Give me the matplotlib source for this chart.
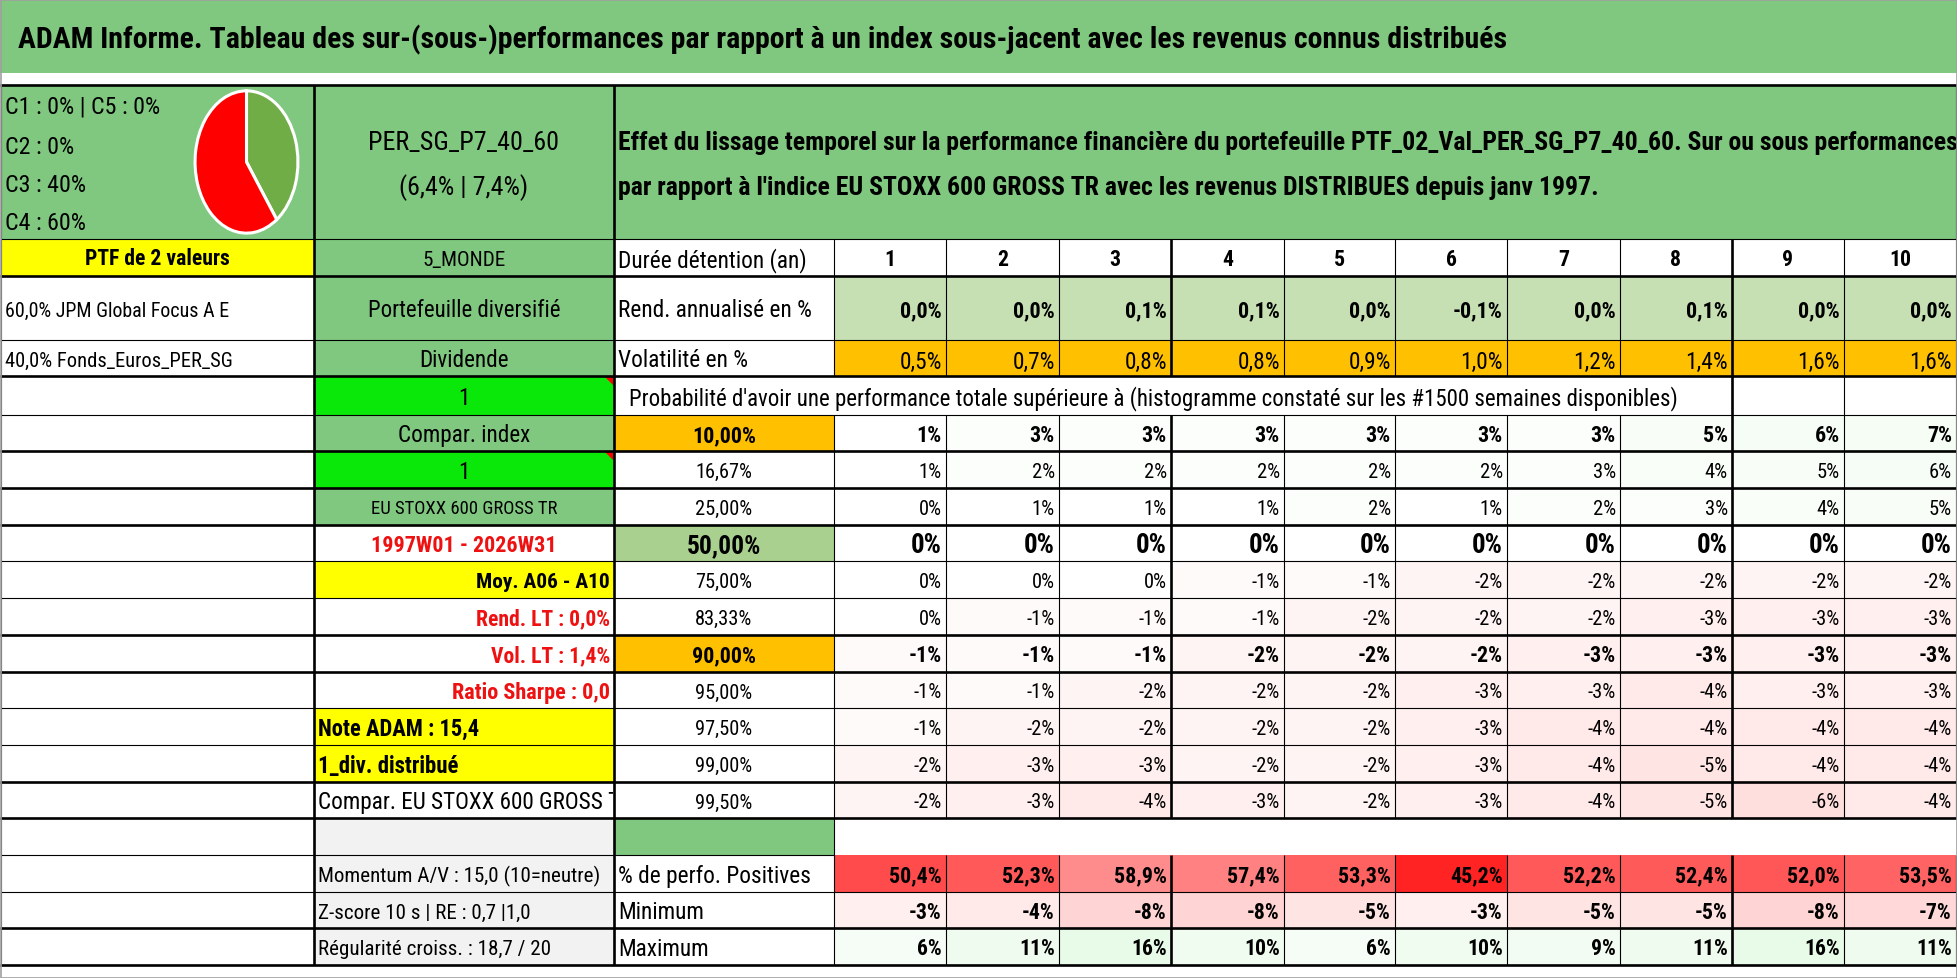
import matplotlib
matplotlib.use("Agg")
import matplotlib.pyplot as plt
import matplotlib.font_manager as fm
from matplotlib.font_manager import FontProperties
from matplotlib.patches import Rectangle, Polygon
from matplotlib.transforms import Bbox, TransformedBbox

TITLE = ("ADAM Informe. Tableau des sur-(sous-)performances par rapport à un index "
         "sous-jacent avec les revenus connus distribués")
EFFET_L1 = ("Effet du lissage temporel sur la performance financière du portefeuille "
            "PTF_02_Val_PER_SG_P7_40_60. Sur ou sous performances")
EFFET_L2 = ("par rapport à l'indice EU STOXX 600 GROSS TR avec les revenus DISTRIBUES "
            "depuis janv 1997.")
PROBA_TITLE = ("Probabilité d'avoir une performance totale supérieure à (histogramme "
               "constaté sur les #1500 semaines disponibles)")

PIE_LABELS = ["C1 : 0% | C5 : 0%", "C2 : 0%", "C3 : 40%", "C4 : 60%"]
PIE_VALUES = [40, 60]          # C3, C4
PIE_COLORS = ["#70AD47", "#FF0000"]

FUND_NAME = "PER_SG_P7_40_60"
FUND_PERF = "(6,4% | 7,4%)"
PTF_LABEL = "PTF de 2 valeurs"
PORTFOLIO = ["60,0% JPM Global Focus A E", "40,0% Fonds_Euros_PER_SG"]

HORIZONS = [1, 2, 3, 4, 5, 6, 7, 8, 9, 10]
REND = [0.0, 0.0, 0.1, 0.1, 0.0, -0.1, 0.0, 0.1, 0.0, 0.0]
VOLAT = [0.5, 0.7, 0.8, 0.8, 0.9, 1.0, 1.2, 1.4, 1.6, 1.6]

QUANTILES = [10.0, 16.67, 25.0, 50.0, 75.0, 83.33, 90.0, 95.0, 97.5, 99.0, 99.5]
PROBA = [
    [1, 3, 3, 3, 3, 3, 3, 5, 6, 7],
    [1, 2, 2, 2, 2, 2, 3, 4, 5, 6],
    [0, 1, 1, 1, 2, 1, 2, 3, 4, 5],
    [0, 0, 0, 0, 0, 0, 0, 0, 0, 0],
    [0, 0, 0, -1, -1, -2, -2, -2, -2, -2],
    [0, -1, -1, -1, -2, -2, -2, -3, -3, -3],
    [-1, -1, -1, -2, -2, -2, -3, -3, -3, -3],
    [-1, -1, -2, -2, -2, -3, -3, -4, -3, -3],
    [-1, -2, -2, -2, -2, -3, -4, -4, -4, -4],
    [-2, -3, -3, -2, -2, -3, -4, -5, -4, -4],
    [-2, -3, -4, -3, -2, -3, -4, -5, -6, -4],
]
POSITIVES = [50.4, 52.3, 58.9, 57.4, 53.3, 45.2, 52.2, 52.4, 52.0, 53.5]
MINIMUM = [-3, -4, -8, -8, -5, -3, -5, -5, -8, -7]
MAXIMUM = [6, 11, 16, 10, 6, 10, 9, 11, 16, 11]

ROW_LABELS_C = ["Durée détention (an)", "Rend. annualisé en %", "Volatilité en %"]
STAT_LABELS = ["% de perfo. Positives", "Minimum", "Maximum"]

# colonne B, lignes 1..19 (sous l'en-tete)
COL_B_LABELS = [
    "5_MONDE", "Portefeuille diversifié", "Dividende", "1", "Compar. index", "1",
    "EU STOXX 600 GROSS TR", "1997W01 - 2026W31", "Moy. A06 - A10",
    "Rend. LT : 0,0%", "Vol. LT : 1,4%", "Ratio Sharpe : 0,0", "Note ADAM : 15,4",
    "1_div. distribué", "Compar. EU STOXX 600 GROSS TR", "",
    "Momentum A/V : 15,0 (10=neutre)", "Z-score 10 s | RE : 0,7 |1,0",
    "Régularité croiss. : 18,7 / 20",
]

# ---------------- mise en page (pixels) ----------------
GREEN = "#80C880"
LIME = "#0AE80A"
YELLOW = "#FFFF00"
ORANGE = "#FFC000"
GRAY = "#F2F2F2"
RED_TXT = "#EE1111"

# (fond, couleur texte, alignement, graisse, largeur cible en px)
COL_B_STYLE = [
    (GREEN, "black", "center", "normal", 83),
    (GREEN, "black", "center", "normal", 192),
    (GREEN, "black", "center", "normal", None),
    (LIME, "black", "center", "normal", None),
    (GREEN, "black", "center", "normal", None),
    (LIME, "black", "center", "normal", None),
    (GREEN, "black", "center", "normal", 188),
    ("white", RED_TXT, "center", "bold", 184),
    (YELLOW, "black", "right", "bold", 134),
    ("white", RED_TXT, "right", "bold", 134),
    ("white", RED_TXT, "right", "bold", 119),
    ("white", RED_TXT, "right", "bold", 158),
    (YELLOW, "black", "left", "bold", 162),
    (YELLOW, "black", "left", "bold", 140),
    ("white", "black", "left", "normal", None),
    (GRAY, "black", "left", "normal", None),
    (GRAY, "black", "left", "normal", 282),
    (GRAY, "black", "left", "normal", None),
    (GRAY, "black", "left", "normal", None),
]

XA, XB, XC, XD = 1, 314, 614, 834
XCOLS = [834, 946, 1059, 1171, 1284, 1395, 1507, 1620, 1732, 1844, 1956]
XR = XCOLS[-1]
YROWS = [86, 240, 277, 341, 377, 416, 452, 489, 526, 562, 599, 636, 673,
         709, 746, 783, 819, 856, 893, 929, 966]
THICK_Y = {86, 277, 377, 452, 489, 526, 636, 673, 783, 819, 929, 966}
THICK_X = {314, 614, 1171, 1732}

W, H = 1958, 979

avail = {f.name for f in fm.fontManager.ttflist}
FONT = next((n for n in ["Liberation Sans Narrow", "Roboto Condensed",
                         "Open Sans Condensed", "Liberation Sans"] if n in avail),
            "DejaVu Sans")

fig = plt.figure(figsize=(W / 100, H / 100), dpi=100)
ax = fig.add_axes([0, 0, 1, 1])
ax.set_xlim(0, W)
ax.set_ylim(H, 0)
ax.axis("off")
renderer = fig.canvas.get_renderer()


def fsize(s, target, weight="normal"):
    """Taille de police (pt) pour que s fasse target px de large."""
    fp = FontProperties(family=FONT, weight=weight, size=20)
    w = renderer.get_text_width_height_descent(s, fp, ismath=False)[0]
    return 20 * target / w


# tailles communes
S_TITLE = fsize(TITLE, 1485, "bold")
S_EFFET = fsize(EFFET_L1, 1333, "bold")
S_PIE = fsize(PIE_LABELS[0], 155)
S_FUND = fsize(FUND_NAME, 191)
S_LAB = fsize(ROW_LABELS_C[1], 194)
S_B = fsize("Compar. index", 132)
S_B_SMALL = fsize(COL_B_LABELS[16], 282)
S_HOR = fsize("10", 22, "bold")
S_REND = fsize("0,0%", 42, "bold")
S_VOL = fsize("0,5%", 42.5)
S_Q = fsize("16,67%", 57)
S_QB = fsize("10,00%", 64, "bold")
S_Q50 = fsize("50,00%", 74, "bold")
S_P = fsize("1%", 23)
S_PB = fsize("-1%", 33, "bold")
S_P50 = fsize("0%", 31, "bold")
S_POS = fsize("50,4%", 53, "bold")
S_MM = fsize("16%", 36, "bold")


def put(x, y, s, size, ha="left", weight="normal", color="black", clip=None):
    t = ax.text(x, y, s, fontsize=size, ha=ha, va="center", fontweight=weight,
                color=color, family=FONT, zorder=4)
    if clip is not None:
        t.set_clip_box(TransformedBbox(Bbox(clip), ax.transData))
        t.set_clip_on(True)
    return t


def cell(x0, x1, y0, y1, fill):
    ax.add_patch(Rectangle((x0, y0), x1 - x0, y1 - y0, facecolor=fill,
                           edgecolor="none", zorder=1))


def lw_for(v, thick_set):
    return 1.9 if v in thick_set else 0.8


def hline(y, x0, x1):
    ax.plot([x0, x1], [y, y], color="black", lw=lw_for(y, THICK_Y),
            solid_capstyle="projecting", zorder=3)


def vline(x, y0, y1):
    ax.plot([x, x], [y0, y1], color="black", lw=lw_for(x, THICK_X),
            solid_capstyle="butt", zorder=3)


def pct_txt(v, dec=1):
    return f"{v:.{dec}f}".replace(".", ",") + "%"


def neg_pos_color(v):
    if v < 0:
        t = min(-v / 8.0, 1.0)
        return (1.0, 1 - 0.17 * t, 1 - 0.17 * t)
    if v > 0:
        t = min(v / 16.0, 1.0)
        return (1 - 0.09 * t, 1 - 0.02 * t, 1 - 0.09 * t)
    return "white"


def red_scale(v):
    lo, hi = min(POSITIVES), max(POSITIVES)
    t = (v - lo) / (hi - lo)
    g = (35 + 105 * t) / 255
    return (1.0, g, g)


# ---------------- bandeau titre ----------------
cell(0, W, 0, 74, GREEN)
put(18, 40, TITLE, S_TITLE, weight="bold")

# ---------------- en-tete ----------------
y0, y1 = YROWS[0], YROWS[1]
cell(XA, XB, y0, y1, GREEN)
cell(XB, XC, y0, y1, GREEN)
cell(XC, XR, y0, y1, GREEN)
for lab, yy in zip(PIE_LABELS, [107, 147, 185, 223]):
    put(5, yy, lab, S_PIE)
put((XB + XC) / 2, 143, FUND_NAME, S_FUND, ha="center")
put((XB + XC) / 2, 188, FUND_PERF, S_FUND, ha="center")
put(618, 143, EFFET_L1, S_EFFET, weight="bold")
put(618, 188, EFFET_L2, S_EFFET, weight="bold")

pax = fig.add_axes([193 / W, 1 - 237 / H, 107 / W, 148 / H])
pax.pie(PIE_VALUES, colors=PIE_COLORS, startangle=90, counterclock=False,
        wedgeprops=dict(edgecolor="white", linewidth=2.2))
pax.set_aspect("auto")
pax.set_xlim(-1.04, 1.04)
pax.set_ylim(-1.04, 1.04)
pax.axis("off")

# ---------------- colonne A ----------------
cell(XA, XB, YROWS[1], YROWS[2], YELLOW)
put((XA + XB) / 2, (YROWS[1] + YROWS[2]) / 2 + 1, PTF_LABEL,
    fsize(PTF_LABEL, 145, "bold"), ha="center", weight="bold")
for i, (name, wfit) in enumerate(zip(PORTFOLIO, [224, 228])):
    put(5, (YROWS[2 + i] + YROWS[3 + i]) / 2 + 2, name, fsize(name, wfit))

# ---------------- colonne B ----------------
for i, (lab, st) in enumerate(zip(COL_B_LABELS, COL_B_STYLE)):
    fill, col, align, weight, wfit = st
    ya, yb = YROWS[1 + i], YROWS[2 + i]
    cell(XB, XC, ya, yb, fill)
    ym = (ya + yb) / 2 + 2
    if align == "center":
        xx = (XB + XC) / 2
    elif align == "right":
        xx = XC - 4
    else:
        xx = XB + 4
    if wfit:
        size = fsize(lab, wfit, weight)
    elif fill == GRAY:
        size = S_B_SMALL
    else:
        size = S_B
    if lab:
        put(xx, ym, lab, size, ha=align, weight=weight, color=col,
            clip=[[XB, ya], [XC - 1, yb]])
    if fill == LIME:
        ax.add_patch(Polygon([[XC - 9, ya + 1], [XC - 1, ya + 1], [XC - 1, ya + 9]],
                             closed=True, facecolor="red", edgecolor="none", zorder=2))

# ---------------- colonne C + donnees ----------------
for k, lab in enumerate(ROW_LABELS_C):
    put(XC + 4, (YROWS[1 + k] + YROWS[2 + k]) / 2 + 2, lab, S_LAB)

for j, h in enumerate(HORIZONS):
    xa, xb = XCOLS[j], XCOLS[j + 1]
    ym = (YROWS[1] + YROWS[2]) / 2 + 2
    put((xa + xb) / 2, ym, str(h), S_HOR, ha="center", weight="bold")
    cell(xa, xb, YROWS[2], YROWS[3], "#C6E0B4")
    put(xb - 4, (YROWS[2] + YROWS[3]) / 2 + 2, pct_txt(REND[j]), S_REND, ha="right",
        weight="bold")
    cell(xa, xb, YROWS[3], YROWS[4], ORANGE)
    put(xb - 4, (YROWS[3] + YROWS[4]) / 2 + 3, pct_txt(VOLAT[j]), S_VOL, ha="right")

put(XC + 15, (YROWS[4] + YROWS[5]) / 2 + 2, PROBA_TITLE,
    fsize(PROBA_TITLE, 1048))

QSTYLE = {10.0: (ORANGE, "bold", S_QB, S_PB), 50.0: ("#A9D08E", "bold", S_Q50, S_P50),
          90.0: (ORANGE, "bold", S_QB, S_PB)}
for r, q in enumerate(QUANTILES):
    ya, yb = YROWS[5 + r], YROWS[6 + r]
    ym = (ya + yb) / 2 + 2
    fill, weight, qsize, vsize = QSTYLE.get(q, ("white", "normal", S_Q, S_P))
    cell(XC, XD, ya, yb, fill)
    put((XC + XD) / 2, ym, pct_txt(q, 2), qsize, ha="center", weight=weight)
    for j, v in enumerate(PROBA[r]):
        xa, xb = XCOLS[j], XCOLS[j + 1]
        cell(xa, xb, ya, yb, neg_pos_color(v))
        put(xb - 4, ym, f"{v}%", vsize, ha="right", weight=weight)

# ligne vide
cell(XC, XD, YROWS[16], YROWS[17], GREEN)

for k, lab in enumerate(STAT_LABELS):
    put(XC + 4, (YROWS[17 + k] + YROWS[18 + k]) / 2 + 2, lab, S_LAB)
for j in range(len(HORIZONS)):
    xa, xb = XCOLS[j], XCOLS[j + 1]
    rows = [(red_scale(POSITIVES[j]), pct_txt(POSITIVES[j]), S_POS),
            (neg_pos_color(MINIMUM[j]), f"{MINIMUM[j]}%", S_MM),
            (neg_pos_color(MAXIMUM[j]), f"{MAXIMUM[j]}%", S_MM)]
    for k, (fill, s, sz) in enumerate(rows):
        ya, yb = YROWS[17 + k], YROWS[18 + k]
        cell(xa, xb, ya, yb, fill)
        put(xb - 4, (ya + yb) / 2 + 2, s, sz, ha="right", weight="bold")

# ---------------- bordures ----------------
for y in YROWS:
    if y == YROWS[17]:
        hline(y, XA, XD)
    else:
        hline(y, XA, XR)

for i in range(len(YROWS) - 1):
    ya, yb = YROWS[i], YROWS[i + 1]
    if i == 0:
        xs = [XA, XB, XC, XR]
    elif i == 4:
        xs = [XA, XB, XC, XCOLS[8], XCOLS[9], XR]
    elif i == 16:
        xs = [XA, XB, XC, XD]
    else:
        xs = [XA, XB, XC] + XCOLS
    for x in xs:
        vline(x, ya, yb)

ax.add_patch(Rectangle((0.5, 0.5), W - 1, H - 1, facecolor="none",
                       edgecolor="#A0A0A0", lw=1.2, zorder=5))

fig.savefig("out.png", dpi=100)
